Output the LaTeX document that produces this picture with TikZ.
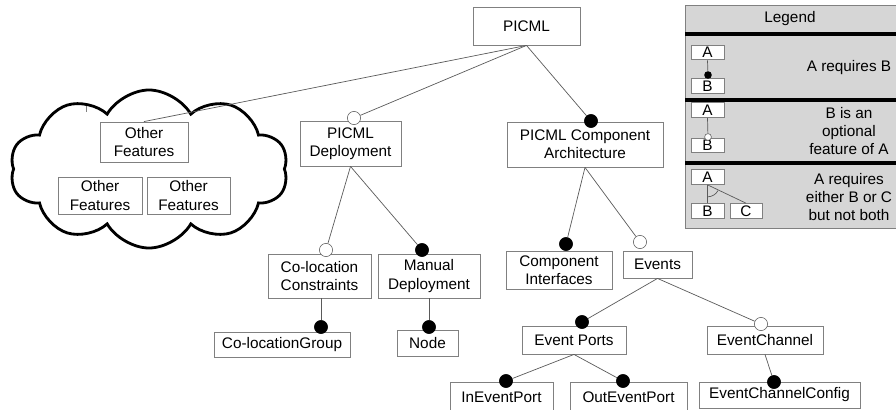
\documentclass[tikz,border=0pt]{standalone}
\usepackage{fontspec}
\setmainfont{Liberation Sans}
\usetikzlibrary{shapes.symbols}

\definecolor{boxgray}{HTML}{808080}
\definecolor{linegray}{HTML}{5A5A5A}
\definecolor{legendfill}{HTML}{D6D6D6}

\begin{document}
\begin{tikzpicture}[x=0.025cm, y=-0.025cm,
    font=\fontsize{10.9}{13}\selectfont,
    feature/.style={draw=boxgray, line width=0.6pt, fill=white, align=center, inner sep=0pt},
    mand/.style={circle, draw=black, fill=black, minimum size=0.33cm, inner sep=0pt},
    opt/.style={circle, draw=linegray, fill=white, minimum size=0.33cm, inner sep=0pt},
    link/.style={draw=linegray, line width=0.5pt},
    legbox/.style={draw=boxgray, line width=0.6pt, fill=white, inner sep=0pt, minimum width=0.825cm, minimum height=0.37cm},
    bar/.style={line width=2.2pt}]
    \path[use as bounding box, clip] (0,0) rectangle (896,409);

    % Cloud of other features
    \node[cloud, draw, line width=2pt, cloud puffs=10, cloud puff arc=120, aspect=1.7,
          minimum width=6.95cm, minimum height=3.95cm, inner sep=0pt] (cloud) at (149,169) {};
    \draw[boxgray] (86,106) -- (86,112);

    % Draw nodes
    \node[feature, minimum width=2.675cm, minimum height=0.95cm] (picml) at (526.5,26) {PICML};
    \node[feature, minimum width=2.2cm, minimum height=1cm] (other1) at (144,142) {Other\\Features};
    \node[feature, minimum width=2.1cm, minimum height=0.925cm] (other2) at (100,195.5) {Other\\Features};
    \node[feature, minimum width=2.075cm, minimum height=0.925cm] (other3) at (188.5,195.5) {Other\\Features};
    \node[feature, minimum width=2.525cm, minimum height=1.125cm] (deploy) at (350.5,143.5) {PICML\\Deployment};
    \node[feature, minimum width=3.9cm, minimum height=1.125cm] (arch) at (585,144.5) {PICML Component\\Architecture};
    \node[feature, minimum width=2.575cm, minimum height=1.1cm] (coloc) at (319.5,276) {Co-location\\Constraints};
    \node[feature, minimum width=2.55cm, minimum height=1.1cm] (manual) at (429,276) {Manual\\Deployment};
    \node[feature, minimum width=3.4cm, minimum height=0.625cm] (group) at (282,344.5) {Co-locationGroup};
    \node[feature, minimum width=1.525cm, minimum height=0.65cm] (nodebox) at (427.5,343) {Node};
    \node[feature, minimum width=2.65cm, minimum height=0.95cm] (ifaces) at (559,270) {Component\\Interfaces};
    \node[feature, minimum width=1.725cm, minimum height=0.675cm] (events) at (657.5,264.5) {Events};
    \node[feature, minimum width=2.6cm, minimum height=0.7cm] (ports) at (574,340) {Event Ports};
    \node[feature, minimum width=2.9cm, minimum height=0.7cm] (channel) at (765,340) {EventChannel};
    \node[feature, minimum width=2.575cm, minimum height=0.75cm] (inport) at (501.5,397) {InEventPort};
    \node[feature, minimum width=2.925cm, minimum height=0.75cm] (outport) at (628.5,397) {OutEventPort};
    \node[feature, minimum width=4.025cm, minimum height=0.65cm] (config) at (779.5,395) {EventChannelConfig};

    % Draw circles
    \node[opt] (c-deploy) at (354,118) {};
    \node[mand] (c-arch) at (591,121) {};
    \node[opt] (c-coloc) at (326,250) {};
    \node[mand] (c-manual) at (422,250) {};
    \node[mand] (c-group) at (321,327) {};
    \node[mand] (c-node) at (429,327) {};
    \node[mand] (c-ifaces) at (566,244) {};
    \node[opt] (c-events) at (640,242) {};
    \node[mand] (c-ports) at (582,322) {};
    \node[opt] (c-channel) at (761,324) {};
    \node[mand] (c-inport) at (506,381) {};
    \node[mand] (c-outport) at (623,381) {};
    \node[mand] (c-config) at (774,382) {};

    % Draw connections
    \draw[link] (picml.south) -- (other1.north);
    \draw[link] (picml.south) -- (c-deploy);
    \draw[link] (picml.south) -- (c-arch);
    \draw[link] (deploy.south) -- (c-coloc);
    \draw[link] (deploy.south) -- (c-manual);
    \draw[link] (c-group |- coloc.south) -- (c-group);
    \draw[link] (manual.south) -- (c-node);
    \draw[link] (arch.south) -- (c-ifaces);
    \draw[link] (arch.south) -- (c-events);
    \draw[link] (events.south) -- (c-ports);
    \draw[link] (events.south) -- (c-channel);
    \draw[link] (ports.south) -- (c-inport);
    \draw[link] (ports.south) -- (c-outport);
    \draw[link] (channel.south) -- (c-config);

    % Legend
    \draw[boxgray, fill=legendfill] (685,5) rectangle (896,228);
    \node (legend) at (790,19) {Legend};
    \draw[bar] (685,34) -- (896,34);
    \draw[bar] (685,100) -- (896,100);
    \draw[bar] (685,163) -- (896,163);

    \node[legbox] (la1) at (707.5,52.5) {A};
    \node[legbox] (lb1) at (707.5,86) {B};
    \node[circle, fill=black, minimum size=0.19cm, inner sep=0pt] (ld1) at (708,75) {};
    \draw[link] (la1.south) -- (ld1);
    \node (lt1) at (849,68) {A requires B};

    \node[legbox] (la2) at (707.5,110) {A};
    \node[legbox] (lb2) at (707.5,145.5) {B};
    \node[circle, draw=linegray, fill=white, minimum size=0.17cm, inner sep=0pt] (ld2) at (708,137) {};
    \draw[link] (la2.south) -- (ld2);
    \node[align=center] (lt2) at (849,131) {B is an\\optional\\feature of A};

    \node[legbox] (la3) at (707.5,177) {A};
    \node[legbox] (lb3) at (707.5,211) {B};
    \node[legbox, minimum width=0.8cm] (lc3) at (746,211) {C};
    \draw[link] (la3.south) -- (lb3.north);
    \draw[link] (la3.south) -- (lc3.north);
    \draw[link] (la3.south) ++(-90:0.3cm) arc[start angle=-90, end angle=-28, radius=0.3cm];
    \node[align=center] (lt3) at (849,197) {A requires\\either B or C\\but not both};
\end{tikzpicture}
\end{document}
